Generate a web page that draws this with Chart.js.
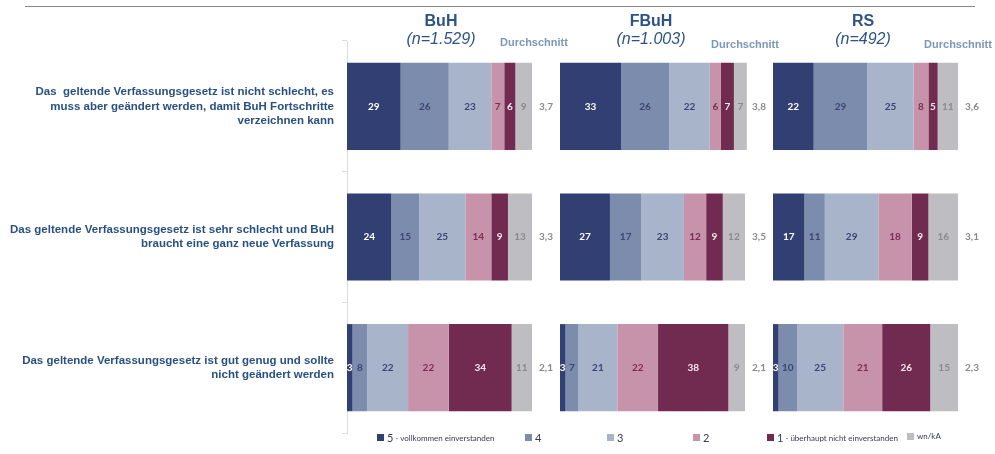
<!DOCTYPE html>
<html>
<head>
<meta charset="utf-8">
<script src="https://cdn.jsdelivr.net/npm/chart.js@4"></script>
<style>
  body { margin: 0; background: #fff; }
  #wrap { position: relative; width: 995px; height: 454px; overflow: hidden; font-family: "Liberation Sans", Arial, sans-serif; }
  .cv { position: absolute; top: 0; }
  .rule { position: absolute; left: 25px; top: 6px; width: 950px; height: 0; border-top: 1.5px solid #858585; }
  .grp { position: absolute; color: #2d5485; font-size: 16px; line-height: 18px; text-align: center; width: 120px; }
  .grp.name { font-weight: bold; top: 12px; }
  .grp.n { font-style: italic; top: 30px; }
  .avgHead { position: absolute; top: 36px; width: 90px; text-align: center; color: #7b97ba; font-weight: bold; font-size: 11px; }
  .leg { position: absolute; top: 431px; font-family: Lato, sans-serif; color: #3a3a55; font-size: 8px; white-space: nowrap; display: flex; align-items: center; }
  .leg i { display: inline-block; width: 7px; height: 7px; margin-right: 3px; }
  .leg b { font-size: 11px; font-weight: normal; margin-right: 2px; }
</style>
</head>
<body>
<div id="wrap">
  <div class="rule"></div>
  <canvas id="c1" class="cv"></canvas>
  <canvas id="c2" class="cv"></canvas>
  <canvas id="c3" class="cv"></canvas>
</div>
<script>
// statements (y categories)
const categories = [
  ['Das  geltende Verfassungsgesetz ist nicht schlecht, es', 'muss aber geändert werden, damit BuH Fortschritte', 'verzeichnen kann'],
  ['Das geltende Verfassungsgesetz ist sehr schlecht und BuH', 'braucht eine ganz neue Verfassung'],
  ['Das geltende Verfassungsgesetz ist gut genug und sollte', 'nicht geändert werden']
];
const seriesNames = ['5 - vollkommen einverstanden', '4', '3', '2', '1 - überhaupt nicht einverstanden', 'wn/kA'];
const groups = ['BuH', 'FBuH', 'RS'];
const groupN = ['(n=1.529)', '(n=1.003)', '(n=492)'];

// one row per statement, one value per answer (in %)
const buhRows = [[29, 26, 23, 7, 6, 9], [24, 15, 25, 14, 9, 13], [3, 8, 22, 22, 34, 11]];
const fbuhRows = [[33, 26, 22, 6, 7, 7], [27, 17, 23, 12, 9, 12], [3, 7, 21, 22, 38, 9]];
const rsRows = [[22, 29, 25, 8, 5, 11], [17, 11, 29, 18, 9, 16], [3, 10, 25, 21, 26, 15]];

// Durchschnitt per statement
const buhAvg = [3.7, 3.3, 2.1];
const fbuhAvg = [3.8, 3.5, 2.1];
const rsAvg = [3.6, 3.1, 2.3];

const colors = ['#323f72', '#7b8cac', '#a8b4ca', '#c793aa', '#712b50', '#bebec2'];
const labelColors = ['#ffffff', '#3a4675', '#3a4675', '#7c2d55', '#f4e8ee', '#8a8a8e'];

const segLabels = {
  id: 'segLabels',
  afterDatasetsDraw(chart) {
    const ctx = chart.ctx;
    ctx.save();
    ctx.font = 'bold 10px Lato, sans-serif';
    ctx.textAlign = 'center';
    ctx.textBaseline = 'middle';
    chart.data.datasets.forEach((ds, i) => {
      chart.getDatasetMeta(i).data.forEach((el, j) => {
        ctx.fillStyle = labelColors[i];
        ctx.fillText(ds.data[j], (el.x + el.base) / 2, el.y);
      });
    });
    // average at the right of each bar
    const avg = chart.options.plugins.segLabels.avg;
    ctx.fillStyle = '#8a8a8e';
    chart.getDatasetMeta(0).data.forEach((el, j) => {
      ctx.fillText(avg[j].toFixed(1).replace('.', ','), chart.chartArea.right + 14, el.y);
    });
    ctx.restore();
  }
};

function makeChart(id, rows, avg, left, width, padL, withAxis) {
  const el = document.getElementById(id);
  el.style.left = left + 'px';
  el.width = width;
  el.height = 454;
  const axisW = withAxis ? 347 : 0;
  return new Chart(el, {
    type: 'bar',
    data: {
      labels: categories,
      datasets: seriesNames.map((name, i) => ({
        label: name,
        data: rows.map(r => r[i]),
        backgroundColor: colors[i],
        borderWidth: 0,
        barPercentage: 1,
        categoryPercentage: 0.667,
        clip: false
      }))
    },
    options: {
      indexAxis: 'y',
      responsive: false,
      animation: false,
      layout: { padding: { left: padL, right: width - padL - axisW - 185, top: 41, bottom: 21 } },
      plugins: { legend: { display: false }, tooltip: { enabled: false }, segLabels: { avg: avg } },
      scales: {
        x: { stacked: true, min: 0, max: 100, display: false },
        y: {
          stacked: true,
          display: withAxis,
          afterFit: s => {
            if (withAxis) s.width = axisW;
            s.paddingTop = 0;
            s.paddingBottom = 0;
          },
          grid: { drawOnChartArea: false, color: '#dcdcdc', tickLength: 5, offset: true },
          border: { color: '#dcdcdc' },
          ticks: { color: '#2a5082', padding: 8, font: { family: 'Liberation Sans', weight: 'bold', size: 11.5, lineHeight: 1.22 } }
        }
      }
    },
    plugins: [segLabels]
  });
}

makeChart('c1', buhRows, buhAvg, 0, 560, 0, true);
makeChart('c2', fbuhRows, fbuhAvg, 550, 220, 10, false);
makeChart('c3', rsRows, rsAvg, 763, 232, 10, false);

// headers
const wrap = document.getElementById('wrap');
const groupX = [441, 651, 863];
const avgHeadX = [534, 745, 958];
groups.forEach((g, i) => {
  const a = document.createElement('div');
  a.className = 'grp name'; a.textContent = g; a.style.left = (groupX[i] - 60) + 'px';
  const b = document.createElement('div');
  b.className = 'grp n'; b.textContent = groupN[i]; b.style.left = (groupX[i] - 60) + 'px';
  const c = document.createElement('div');
  c.className = 'avgHead'; c.textContent = 'Durchschnitt'; c.style.left = (avgHeadX[i] - 45) + 'px';
  if (i > 0) c.style.top = '38px';
  wrap.append(a, b, c);
});

// legend
const legendX = [377, 525, 607, 693, 767, 907];
seriesNames.forEach((name, i) => {
  const d = document.createElement('div');
  d.className = 'leg';
  d.style.left = legendX[i] + 'px';
  const parts = name.split(' - ');
  let html = '<i style="background:' + colors[i] + '"></i>';
  if (i < 5) html += '<b>' + parts[0] + '</b>' + (parts[1] ? '- ' + parts[1] : '');
  else html += name;
  d.innerHTML = html;
  wrap.appendChild(d);
});
</script>
</body>
</html>
